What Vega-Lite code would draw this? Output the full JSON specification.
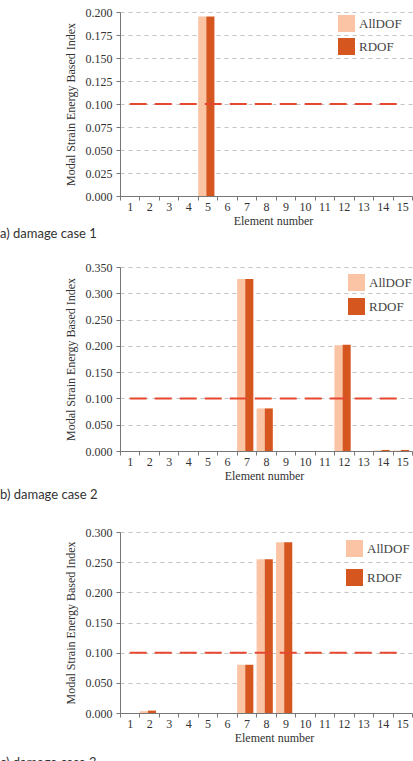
{
  "$schema": "https://vega.github.io/schema/vega-lite/v6.json",
  "autosize": {"type": "pad"},
  "padding": {"left": 0, "top": 6, "right": 0, "bottom": 0},
  "background": "white",
  "config": {
    "view": {"stroke": null},
    "font": "Liberation Serif",
    "axis": {
      "labelFont": "Liberation Serif",
      "labelFontSize": 12,
      "labelColor": "#333",
      "titleFont": "Liberation Serif",
      "titleFontSize": 12,
      "titleFontWeight": "normal",
      "titleColor": "#333",
      "domainColor": "#777",
      "tickColor": "#777",
      "tickSize": 4,
      "labelOverlap": false
    },
    "axisX": {"grid": false, "labelAngle": 0, "tickBand": "extent", "labelPadding": 1, "titlePadding": 3},
    "axisY": {"grid": true, "gridColor": "#c4c4c4", "gridDash": [4, 4], "labelPadding": 4, "titlePadding": 8, "format": ".3f"},
    "title": {"font": "Lato", "fontSize": 13, "fontWeight": "normal", "color": "#333", "orient": "bottom", "anchor": "start", "frame": "group", "dx": -120},
    "legend": {"title": null, "orient": "none", "symbolType": "square", "symbolSize": 289, "symbolStrokeWidth": 0, "symbolOpacity": 1, "labelFont": "Liberation Serif", "labelFontSize": 13, "labelColor": "#444", "labelOffset": 4, "padding": 0}
  },
  "datasets": {
    "msei": [
      {"case": "a", "element": 5, "method": "AllDOF", "value": 0.195},
      {"case": "a", "element": 5, "method": "RDOF", "value": 0.195},
      {"case": "b", "element": 7, "method": "AllDOF", "value": 0.327},
      {"case": "b", "element": 7, "method": "RDOF", "value": 0.327},
      {"case": "b", "element": 8, "method": "AllDOF", "value": 0.081},
      {"case": "b", "element": 8, "method": "RDOF", "value": 0.081},
      {"case": "b", "element": 12, "method": "AllDOF", "value": 0.201},
      {"case": "b", "element": 12, "method": "RDOF", "value": 0.202},
      {"case": "b", "element": 14, "method": "AllDOF", "value": 0.001},
      {"case": "b", "element": 14, "method": "RDOF", "value": 0.002},
      {"case": "b", "element": 15, "method": "AllDOF", "value": 0.001},
      {"case": "b", "element": 15, "method": "RDOF", "value": 0.002},
      {"case": "c", "element": 2, "method": "AllDOF", "value": 0.003},
      {"case": "c", "element": 2, "method": "RDOF", "value": 0.004},
      {"case": "c", "element": 7, "method": "AllDOF", "value": 0.080},
      {"case": "c", "element": 7, "method": "RDOF", "value": 0.080},
      {"case": "c", "element": 8, "method": "AllDOF", "value": 0.255},
      {"case": "c", "element": 8, "method": "RDOF", "value": 0.255},
      {"case": "c", "element": 9, "method": "AllDOF", "value": 0.283},
      {"case": "c", "element": 9, "method": "RDOF", "value": 0.283}
    ],
    "threshold": [
      {"case": "a", "from": 1, "to": 15, "value": 0.1},
      {"case": "b", "from": 1, "to": 15, "value": 0.1},
      {"case": "c", "from": 1, "to": 15, "value": 0.1}
    ]
  },
  "bounds": "flush",
  "spacing": 71,
  "resolve": {"scale": {"color": "independent"}, "legend": {"color": "independent"}},
  "vconcat": [
    {
      "width": 292,
      "height": 184,
      "title": {"text": "a) damage case 1", "offset": 2},
      "layer": [
        {
          "data": {"name": "msei"},
          "transform": [{"filter": "datum.case === 'a'"}],
          "mark": {"type": "bar"},
          "encoding": {
            "x": {"field": "element", "type": "ordinal", "scale": {"domain": [1,2,3,4,5,6,7,8,9,10,11,12,13,14,15], "paddingInner": 0, "paddingOuter": 0}, "axis": {"title": "Element number", "titleX": 153}},
            "xOffset": {"field": "method", "type": "nominal", "scale": {"domain": ["AllDOF", "RDOF"], "paddingInner": 0, "paddingOuter": 0.2, "align": 0.1}},
            "y": {"field": "value", "type": "quantitative", "scale": {"domain": [0, 0.2], "nice": false}, "axis": {"title": "Modal Strain Energy Based Index", "values": [0, 0.025, 0.05, 0.075, 0.1, 0.125, 0.15, 0.175, 0.2]}},
            "color": {"field": "method", "type": "nominal", "scale": {"domain": ["AllDOF", "RDOF"], "range": ["#fbc5a5", "#d5561f"]}, "legend": {"legendX": 218, "legendY": 3, "rowPadding": 6}}
          }
        },
        {
          "data": {"name": "threshold"},
          "transform": [{"filter": "datum.case === 'a'"}],
          "mark": {"type": "rule", "color": "#e8472f", "strokeWidth": 2, "strokeDash": [17, 8]},
          "encoding": {
            "x": {"field": "from", "type": "ordinal", "axis": {"title": "Element number", "titleX": 153}},
            "x2": {"field": "to"},
            "y": {"field": "value", "type": "quantitative", "axis": {"title": "Modal Strain Energy Based Index", "values": [0, 0.025, 0.05, 0.075, 0.1, 0.125, 0.15, 0.175, 0.2]}}
          }
        }
      ]
    },
    {
      "bounds": "flush",
      "spacing": 81,
      "resolve": {"scale": {"color": "independent"}, "legend": {"color": "independent"}},
      "vconcat": [
        {
          "width": 292,
          "height": 184,
          "title": {"text": "b) damage case 2", "offset": 8},
          "layer": [
            {
              "data": {"name": "msei"},
              "transform": [{"filter": "datum.case === 'b'"}],
              "mark": {"type": "bar"},
              "encoding": {
                "x": {"field": "element", "type": "ordinal", "scale": {"domain": [1,2,3,4,5,6,7,8,9,10,11,12,13,14,15], "paddingInner": 0, "paddingOuter": 0}, "axis": {"title": "Element number", "titleX": 144}},
                "xOffset": {"field": "method", "type": "nominal", "scale": {"domain": ["AllDOF", "RDOF"], "paddingInner": 0, "paddingOuter": 0.2, "align": 0.1}},
                "y": {"field": "value", "type": "quantitative", "scale": {"domain": [0, 0.35], "nice": false}, "axis": {"title": "Modal Strain Energy Based Index", "values": [0, 0.05, 0.1, 0.15, 0.2, 0.25, 0.3, 0.35]}},
                "color": {"field": "method", "type": "nominal", "scale": {"domain": ["AllDOF", "RDOF"], "range": ["#fbc5a5", "#d5561f"]}, "legend": {"legendX": 228, "legendY": 7, "rowPadding": 7}}
              }
            },
            {
              "data": {"name": "threshold"},
              "transform": [{"filter": "datum.case === 'b'"}],
              "mark": {"type": "rule", "color": "#e8472f", "strokeWidth": 2, "strokeDash": [17, 8]},
              "encoding": {
                "x": {"field": "from", "type": "ordinal", "axis": {"title": "Element number", "titleX": 144}},
                "x2": {"field": "to"},
                "y": {"field": "value", "type": "quantitative", "axis": {"title": "Modal Strain Energy Based Index", "values": [0, 0.05, 0.1, 0.15, 0.2, 0.25, 0.3, 0.35]}}
              }
            }
          ]
        },
        {
          "width": 292,
          "height": 181,
          "title": {"text": "c) damage case 3", "offset": 14},
          "layer": [
            {
              "data": {"name": "msei"},
              "transform": [{"filter": "datum.case === 'c'"}],
              "mark": {"type": "bar"},
              "encoding": {
                "x": {"field": "element", "type": "ordinal", "scale": {"domain": [1,2,3,4,5,6,7,8,9,10,11,12,13,14,15], "paddingInner": 0, "paddingOuter": 0}, "axis": {"title": "Element number", "titleX": 154}},
                "xOffset": {"field": "method", "type": "nominal", "scale": {"domain": ["AllDOF", "RDOF"], "paddingInner": 0, "paddingOuter": 0.2, "align": 0.1}},
                "y": {"field": "value", "type": "quantitative", "scale": {"domain": [0, 0.3], "nice": false}, "axis": {"title": "Modal Strain Energy Based Index", "values": [0, 0.05, 0.1, 0.15, 0.2, 0.25, 0.3]}},
                "color": {"field": "method", "type": "nominal", "scale": {"domain": ["AllDOF", "RDOF"], "range": ["#fbc5a5", "#d5561f"]}, "legend": {"legendX": 226, "legendY": 8, "rowPadding": 12}}
              }
            },
            {
              "data": {"name": "threshold"},
              "transform": [{"filter": "datum.case === 'c'"}],
              "mark": {"type": "rule", "color": "#e8472f", "strokeWidth": 2, "strokeDash": [17, 8]},
              "encoding": {
                "x": {"field": "from", "type": "ordinal", "axis": {"title": "Element number", "titleX": 154}},
                "x2": {"field": "to"},
                "y": {"field": "value", "type": "quantitative", "axis": {"title": "Modal Strain Energy Based Index", "values": [0, 0.05, 0.1, 0.15, 0.2, 0.25, 0.3]}}
              }
            }
          ]
        }
      ]
    }
  ]
}
